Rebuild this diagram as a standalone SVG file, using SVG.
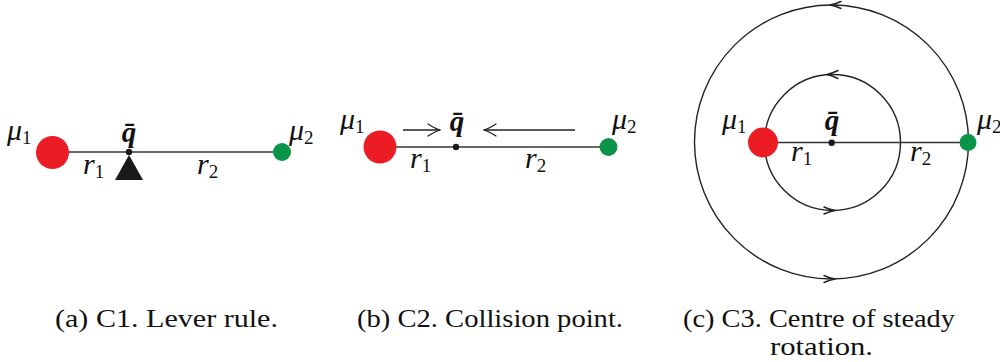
<svg xmlns="http://www.w3.org/2000/svg" width="1000" height="362" viewBox="0 0 1000 362">
<style>
.bg{fill:#ffffff}
.ln{stroke:#333;stroke-width:1.5;fill:none}
.arr{stroke:#222;stroke-width:1.3;fill:none}
.ring{stroke:#222;stroke-width:1.4;fill:none}
.chev{stroke:#222;stroke-width:1.4;fill:none;stroke-linecap:round;stroke-linejoin:round}
.red{fill:#ec1c24}
.green{fill:#0a9447}
.dot{fill:#1a1a1a}
.m{font-family:'Liberation Serif','Times New Roman',Times,'DejaVu Serif',serif;font-style:italic;font-size:30px;fill:#111}
.sub{font-style:normal;font-size:19px}
.q{font-family:'Liberation Serif','Times New Roman',Times,'DejaVu Serif',serif;font-style:italic;font-weight:bold;font-size:29px;fill:#111}
.cap{font-family:'Liberation Serif','Times New Roman',Times,'DejaVu Serif',serif;font-size:26px;fill:#111}
</style>
<defs>
<marker id="ah" viewBox="0 0 14 14" refX="13" refY="7" markerWidth="14" markerHeight="14" markerUnits="userSpaceOnUse" orient="auto">
<path d="M1,1 Q8,5.5 13,7 Q8,8.5 1,13" fill="none" stroke="#222" stroke-width="1.3" stroke-linecap="round"/>
</marker>
</defs>
<rect class="bg" x="0" y="0" width="1000" height="362"/>

<!-- connectors -->
<g id="connectors">
<line class="ln" x1="52" y1="152" x2="282" y2="152"/>
<line class="ln" x1="380" y1="147" x2="608" y2="147"/>
<line class="arr" x1="403" y1="130" x2="440" y2="130" marker-end="url(#ah)"/>
<line class="arr" x1="575" y1="130" x2="484" y2="130" marker-end="url(#ah)"/>
<line class="ln" x1="763" y1="142.5" x2="968" y2="142.5"/>
<circle class="ring" cx="831.5" cy="142" r="137"/>
<circle class="ring" cx="832.5" cy="142.5" r="68"/>
<path class="chev" d="M841,1.5 Q835,4.3 830,5 Q835,5.7 841,8.5"/>
<path class="chev" d="M824,275.5 Q830,278.3 835,279 Q830,279.7 824,282.5"/>
<path class="chev" d="M838,70.5 Q832,73.3 827,74.5 Q832,75.7 838,78.5"/>
<path class="chev" d="M824,207 Q830,209.8 835,210.5 Q830,211.2 824,214"/>
</g>

<!-- panel a -->
<g id="a-mu1">
<circle class="red" cx="52.5" cy="152.5" r="16.5"/>
<text class="m" x="7" y="140">μ<tspan class="sub" dy="4">1</tspan></text>
</g>
<g id="a-q">
<circle class="dot" cx="129" cy="152" r="3.2"/>
<path class="dot" d="M115,180 L143,180 L129,155 Z"/>
<text class="q" x="129" y="142" text-anchor="middle">q̄</text>
</g>
<g id="a-mu2">
<circle class="green" cx="282" cy="152" r="9"/>
<text class="m" x="289" y="140">μ<tspan class="sub" dy="4">2</tspan></text>
</g>
<g id="a-labels">
<text class="m" x="83" y="174">r<tspan class="sub" dy="4">1</tspan></text>
<text class="m" x="197" y="174">r<tspan class="sub" dy="4">2</tspan></text>
</g>
<text class="cap" x="55" y="327" textLength="223" lengthAdjust="spacingAndGlyphs">(a) C1. Lever rule.</text>

<!-- panel b -->
<g id="b-mu1">
<circle class="red" cx="380" cy="147" r="16.5"/>
<text class="m" x="340" y="129">μ<tspan class="sub" dy="4">1</tspan></text>
</g>
<g id="b-q">
<circle class="dot" cx="456" cy="147" r="3.2"/>
<text class="q" x="457" y="131" text-anchor="middle">q̄</text>
</g>
<g id="b-mu2">
<circle class="green" cx="608.5" cy="147" r="9"/>
<text class="m" x="612" y="129">μ<tspan class="sub" dy="4">2</tspan></text>
</g>
<g id="b-labels">
<text class="m" x="410" y="168">r<tspan class="sub" dy="4">1</tspan></text>
<text class="m" x="525" y="168">r<tspan class="sub" dy="4">2</tspan></text>
</g>
<text class="cap" x="357" y="327" textLength="266" lengthAdjust="spacingAndGlyphs">(b) C2. Collision point.</text>

<!-- panel c -->
<g id="c-mu1">
<circle class="red" cx="763" cy="142.5" r="15"/>
<text class="m" x="722" y="129">μ<tspan class="sub" dy="4">1</tspan></text>
</g>
<g id="c-q">
<circle class="dot" cx="831.7" cy="142.7" r="3.2"/>
<text class="q" x="832" y="130" text-anchor="middle">q̄</text>
</g>
<g id="c-mu2">
<circle class="green" cx="968" cy="142.5" r="8.5"/>
<text class="m" x="977" y="129">μ<tspan class="sub" dy="4">2</tspan></text>
</g>
<g id="c-labels">
<text class="m" x="791" y="161">r<tspan class="sub" dy="4">1</tspan></text>
<text class="m" x="910" y="161">r<tspan class="sub" dy="4">2</tspan></text>
</g>
<text class="cap" x="683" y="327" textLength="272" lengthAdjust="spacingAndGlyphs">(c) C3. Centre of steady</text>
<text class="cap" x="770" y="355" textLength="103" lengthAdjust="spacingAndGlyphs">rotation.</text>
</svg>
